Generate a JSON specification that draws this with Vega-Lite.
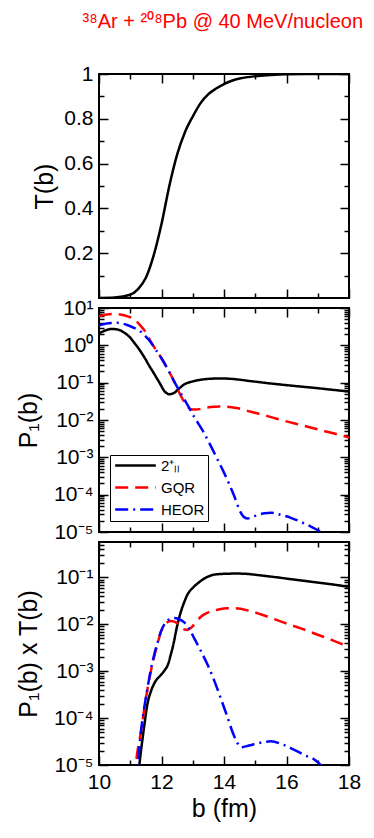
{
  "$schema": "https://vega.github.io/schema/vega-lite/v6.json",
  "background": "white",
  "autosize": {"type": "pad"},
  "padding": {"left": 15, "top": 12, "right": 5, "bottom": 5},
  "spacing": 10,
  "bounds": "flush",
  "title": {"text": "³⁸Ar + ²⁰⁸Pb @ 40 MeV/nucleon", "color": "red", "fontSize": 20, "fontWeight": "normal", "font": "Liberation Sans", "frame": "bounds", "anchor": "start", "dx": 67, "offset": 30},
  "config": {
    "font": "Liberation Sans",
    "view": {"stroke": "black", "strokeWidth": 2},
    "axis": {
      "domain": false, "grid": false,
      "labelFont": "Liberation Sans", "labelFontSize": 21, "labelColor": "black",
      "titleFont": "Liberation Sans", "titleFontSize": 25, "titleFontWeight": "normal", "titleColor": "black",
      "tickColor": "black", "tickWidth": 1.5,
      "labelFlush": false, "labelOverlap": false, "labelBound": false
    },
    "legend": {"labelFont": "Liberation Sans"}
  },
  "resolve": {"scale": {"color": "independent", "strokeDash": "independent"}},
  "datasets": {
    "t": [
      {"b": 10.0, "v": 0.0}, {"b": 10.5, "v": 0.002}, {"b": 11.0, "v": 0.015}, {"b": 11.25, "v": 0.04},
      {"b": 11.5, "v": 0.09}, {"b": 11.75, "v": 0.19}, {"b": 12.0, "v": 0.33}, {"b": 12.25, "v": 0.5},
      {"b": 12.5, "v": 0.64}, {"b": 12.75, "v": 0.74}, {"b": 13.0, "v": 0.81}, {"b": 13.25, "v": 0.87},
      {"b": 13.5, "v": 0.91}, {"b": 13.75, "v": 0.935}, {"b": 14.0, "v": 0.955}, {"b": 14.25, "v": 0.97},
      {"b": 14.5, "v": 0.98}, {"b": 14.75, "v": 0.986}, {"b": 15.0, "v": 0.99},
      {"b": 15.5, "v": 0.996}, {"b": 16.0, "v": 0.999}, {"b": 17.0, "v": 1.0}, {"b": 18.0, "v": 1.0}
    ],
    "p": [
      {"s": "2⁺ₗₗ", "b": 10.0, "v": 2.1}, {"s": "2⁺ₗₗ", "b": 10.2, "v": 2.5}, {"s": "2⁺ₗₗ", "b": 10.4, "v": 2.75},
      {"s": "2⁺ₗₗ", "b": 10.6, "v": 2.65}, {"s": "2⁺ₗₗ", "b": 10.8, "v": 2.2}, {"s": "2⁺ₗₗ", "b": 11.0, "v": 1.6},
      {"s": "2⁺ₗₗ", "b": 11.12, "v": 1.2}, {"s": "2⁺ₗₗ", "b": 11.3, "v": 0.75}, {"s": "2⁺ₗₗ", "b": 11.45, "v": 0.48},
      {"s": "2⁺ₗₗ", "b": 11.6, "v": 0.29}, {"s": "2⁺ₗₗ", "b": 11.77, "v": 0.17}, {"s": "2⁺ₗₗ", "b": 11.95, "v": 0.095},
      {"s": "2⁺ₗₗ", "b": 12.09, "v": 0.06}, {"s": "2⁺ₗₗ", "b": 12.25, "v": 0.049}, {"s": "2⁺ₗₗ", "b": 12.4, "v": 0.053},
      {"s": "2⁺ₗₗ", "b": 12.55, "v": 0.068}, {"s": "2⁺ₗₗ", "b": 12.73, "v": 0.09}, {"s": "2⁺ₗₗ", "b": 13.0, "v": 0.108},
      {"s": "2⁺ₗₗ", "b": 13.26, "v": 0.12}, {"s": "2⁺ₗₗ", "b": 13.6, "v": 0.128}, {"s": "2⁺ₗₗ", "b": 13.9, "v": 0.13},
      {"s": "2⁺ₗₗ", "b": 14.3, "v": 0.125}, {"s": "2⁺ₗₗ", "b": 14.86, "v": 0.11}, {"s": "2⁺ₗₗ", "b": 15.4, "v": 0.097},
      {"s": "2⁺ₗₗ", "b": 15.93, "v": 0.087}, {"s": "2⁺ₗₗ", "b": 16.5, "v": 0.078}, {"s": "2⁺ₗₗ", "b": 17.0, "v": 0.071},
      {"s": "2⁺ₗₗ", "b": 17.5, "v": 0.064}, {"s": "2⁺ₗₗ", "b": 18.0, "v": 0.058},
      {"s": "GQR", "b": 10.0, "v": 6.0}, {"s": "GQR", "b": 10.25, "v": 6.7}, {"s": "GQR", "b": 10.5, "v": 6.9},
      {"s": "GQR", "b": 10.8, "v": 6.4}, {"s": "GQR", "b": 11.1, "v": 5.1}, {"s": "GQR", "b": 11.3, "v": 3.6},
      {"s": "GQR", "b": 11.5, "v": 2.2}, {"s": "GQR", "b": 11.66, "v": 1.25}, {"s": "GQR", "b": 11.8, "v": 0.8},
      {"s": "GQR", "b": 12.0, "v": 0.45}, {"s": "GQR", "b": 12.2, "v": 0.23}, {"s": "GQR", "b": 12.4, "v": 0.11},
      {"s": "GQR", "b": 12.6, "v": 0.048}, {"s": "GQR", "b": 12.73, "v": 0.03}, {"s": "GQR", "b": 12.85, "v": 0.022},
      {"s": "GQR", "b": 12.94, "v": 0.0195}, {"s": "GQR", "b": 13.1, "v": 0.019}, {"s": "GQR", "b": 13.37, "v": 0.021},
      {"s": "GQR", "b": 13.7, "v": 0.0225}, {"s": "GQR", "b": 14.0, "v": 0.023}, {"s": "GQR", "b": 14.4, "v": 0.021},
      {"s": "GQR", "b": 14.86, "v": 0.0166}, {"s": "GQR", "b": 15.4, "v": 0.0127}, {"s": "GQR", "b": 15.93, "v": 0.0095},
      {"s": "GQR", "b": 16.5, "v": 0.0072}, {"s": "GQR", "b": 17.0, "v": 0.0056}, {"s": "GQR", "b": 17.5, "v": 0.0044},
      {"s": "GQR", "b": 18.0, "v": 0.0034},
      {"s": "HEOR", "b": 10.0, "v": 3.4}, {"s": "HEOR", "b": 10.3, "v": 3.9}, {"s": "HEOR", "b": 10.6, "v": 4.0},
      {"s": "HEOR", "b": 10.9, "v": 3.5}, {"s": "HEOR", "b": 11.1, "v": 3.0}, {"s": "HEOR", "b": 11.34, "v": 2.3},
      {"s": "HEOR", "b": 11.5, "v": 1.7}, {"s": "HEOR", "b": 11.66, "v": 1.2}, {"s": "HEOR", "b": 11.8, "v": 0.8},
      {"s": "HEOR", "b": 12.0, "v": 0.45}, {"s": "HEOR", "b": 12.2, "v": 0.23}, {"s": "HEOR", "b": 12.4, "v": 0.11},
      {"s": "HEOR", "b": 12.6, "v": 0.055}, {"s": "HEOR", "b": 12.73, "v": 0.036}, {"s": "HEOR", "b": 12.9, "v": 0.02},
      {"s": "HEOR", "b": 13.05, "v": 0.012}, {"s": "HEOR", "b": 13.3, "v": 0.0055}, {"s": "HEOR", "b": 13.58, "v": 0.002},
      {"s": "HEOR", "b": 13.8, "v": 0.00085}, {"s": "HEOR", "b": 14.0, "v": 0.00039}, {"s": "HEOR", "b": 14.17, "v": 0.00019},
      {"s": "HEOR", "b": 14.33, "v": 0.000091}, {"s": "HEOR", "b": 14.5, "v": 0.000038}, {"s": "HEOR", "b": 14.62, "v": 0.000026},
      {"s": "HEOR", "b": 14.75, "v": 0.000023}, {"s": "HEOR", "b": 15.0, "v": 0.000027}, {"s": "HEOR", "b": 15.3, "v": 0.000032},
      {"s": "HEOR", "b": 15.5, "v": 0.000033}, {"s": "HEOR", "b": 15.8, "v": 0.000029}, {"s": "HEOR", "b": 16.14, "v": 0.000024},
      {"s": "HEOR", "b": 16.5, "v": 0.000018}, {"s": "HEOR", "b": 16.78, "v": 0.000014}, {"s": "HEOR", "b": 17.1, "v": 0.00001},
      {"s": "HEOR", "b": 17.5, "v": 0.000006}, {"s": "HEOR", "b": 18.0, "v": 0.000003}
    ],
    "pt": [
      {"s": "2⁺ₗₗ", "b": 11.0, "v": 0.0000001}, {"s": "2⁺ₗₗ", "b": 11.29, "v": 0.00001}, {"s": "2⁺ₗₗ", "b": 11.45, "v": 0.00007},
      {"s": "2⁺ₗₗ", "b": 11.55, "v": 0.0002}, {"s": "2⁺ₗₗ", "b": 11.66, "v": 0.00037}, {"s": "2⁺ₗₗ", "b": 11.8, "v": 0.0006},
      {"s": "2⁺ₗₗ", "b": 11.98, "v": 0.00083}, {"s": "2⁺ₗₗ", "b": 12.1, "v": 0.00105}, {"s": "2⁺ₗₗ", "b": 12.2, "v": 0.00135},
      {"s": "2⁺ₗₗ", "b": 12.3, "v": 0.0023}, {"s": "2⁺ₗₗ", "b": 12.4, "v": 0.0043}, {"s": "2⁺ₗₗ", "b": 12.46, "v": 0.0069},
      {"s": "2⁺ₗₗ", "b": 12.62, "v": 0.0186}, {"s": "2⁺ₗₗ", "b": 12.73, "v": 0.03}, {"s": "2⁺ₗₗ", "b": 12.83, "v": 0.043},
      {"s": "2⁺ₗₗ", "b": 13.0, "v": 0.06}, {"s": "2⁺ₗₗ", "b": 13.16, "v": 0.075}, {"s": "2⁺ₗₗ", "b": 13.35, "v": 0.093},
      {"s": "2⁺ₗₗ", "b": 13.58, "v": 0.11}, {"s": "2⁺ₗₗ", "b": 13.85, "v": 0.118}, {"s": "2⁺ₗₗ", "b": 14.11, "v": 0.12},
      {"s": "2⁺ₗₗ", "b": 14.4, "v": 0.121}, {"s": "2⁺ₗₗ", "b": 14.65, "v": 0.12}, {"s": "2⁺ₗₗ", "b": 15.2, "v": 0.11},
      {"s": "2⁺ₗₗ", "b": 15.72, "v": 0.1}, {"s": "2⁺ₗₗ", "b": 16.25, "v": 0.09}, {"s": "2⁺ₗₗ", "b": 16.78, "v": 0.081},
      {"s": "2⁺ₗₗ", "b": 17.4, "v": 0.072}, {"s": "2⁺ₗₗ", "b": 18.0, "v": 0.063},
      {"s": "GQR", "b": 11.0, "v": 0.0000001}, {"s": "GQR", "b": 11.18, "v": 0.00001}, {"s": "GQR", "b": 11.34, "v": 0.00005},
      {"s": "GQR", "b": 11.45, "v": 0.00016}, {"s": "GQR", "b": 11.56, "v": 0.00045}, {"s": "GQR", "b": 11.66, "v": 0.001},
      {"s": "GQR", "b": 11.77, "v": 0.0021}, {"s": "GQR", "b": 11.88, "v": 0.004}, {"s": "GQR", "b": 11.98, "v": 0.0069},
      {"s": "GQR", "b": 12.1, "v": 0.0095}, {"s": "GQR", "b": 12.2, "v": 0.0112}, {"s": "GQR", "b": 12.3, "v": 0.0118},
      {"s": "GQR", "b": 12.46, "v": 0.011}, {"s": "GQR", "b": 12.6, "v": 0.0093}, {"s": "GQR", "b": 12.73, "v": 0.0078},
      {"s": "GQR", "b": 12.83, "v": 0.0076}, {"s": "GQR", "b": 12.95, "v": 0.0085}, {"s": "GQR", "b": 13.1, "v": 0.011},
      {"s": "GQR", "b": 13.26, "v": 0.0145}, {"s": "GQR", "b": 13.5, "v": 0.018}, {"s": "GQR", "b": 13.8, "v": 0.0205},
      {"s": "GQR", "b": 14.1, "v": 0.022}, {"s": "GQR", "b": 14.33, "v": 0.022}, {"s": "GQR", "b": 14.8, "v": 0.0195},
      {"s": "GQR", "b": 15.4, "v": 0.0145}, {"s": "GQR", "b": 15.9, "v": 0.011}, {"s": "GQR", "b": 16.46, "v": 0.0082},
      {"s": "GQR", "b": 17.0, "v": 0.006}, {"s": "GQR", "b": 17.5, "v": 0.0045}, {"s": "GQR", "b": 18.0, "v": 0.0033},
      {"s": "HEOR", "b": 11.0, "v": 0.0000001}, {"s": "HEOR", "b": 11.24, "v": 0.00001}, {"s": "HEOR", "b": 11.34, "v": 0.00005},
      {"s": "HEOR", "b": 11.45, "v": 0.00017}, {"s": "HEOR", "b": 11.56, "v": 0.00047}, {"s": "HEOR", "b": 11.66, "v": 0.0011},
      {"s": "HEOR", "b": 11.77, "v": 0.0023}, {"s": "HEOR", "b": 11.88, "v": 0.0042}, {"s": "HEOR", "b": 11.98, "v": 0.007},
      {"s": "HEOR", "b": 12.1, "v": 0.0102}, {"s": "HEOR", "b": 12.25, "v": 0.0128}, {"s": "HEOR", "b": 12.4, "v": 0.0137},
      {"s": "HEOR", "b": 12.55, "v": 0.013}, {"s": "HEOR", "b": 12.73, "v": 0.011}, {"s": "HEOR", "b": 12.9, "v": 0.0078},
      {"s": "HEOR", "b": 13.05, "v": 0.005}, {"s": "HEOR", "b": 13.26, "v": 0.0027}, {"s": "HEOR", "b": 13.48, "v": 0.00135},
      {"s": "HEOR", "b": 13.7, "v": 0.0006}, {"s": "HEOR", "b": 13.9, "v": 0.00026}, {"s": "HEOR", "b": 14.1, "v": 0.00011},
      {"s": "HEOR", "b": 14.27, "v": 0.000051}, {"s": "HEOR", "b": 14.4, "v": 0.000032}, {"s": "HEOR", "b": 14.54, "v": 0.000024},
      {"s": "HEOR", "b": 14.8, "v": 0.000026}, {"s": "HEOR", "b": 15.07, "v": 0.000029}, {"s": "HEOR", "b": 15.5, "v": 0.000032},
      {"s": "HEOR", "b": 15.9, "v": 0.000027}, {"s": "HEOR", "b": 16.25, "v": 0.000021}, {"s": "HEOR", "b": 16.6, "v": 0.000016},
      {"s": "HEOR", "b": 16.9, "v": 0.000013}, {"s": "HEOR", "b": 17.1, "v": 0.00001}, {"s": "HEOR", "b": 17.5, "v": 0.000006},
      {"s": "HEOR", "b": 18.0, "v": 0.000003}
    ]
  },
  "vconcat": [
    {
      "width": 250, "height": 224,
      "data": {"name": "t"},
      "layer": [
        {
          "mark": {"type": "line", "color": "black", "strokeWidth": 2.5, "clip": true, "interpolate": "monotone"},
          "encoding": {
            "x": {"field": "b", "type": "quantitative", "scale": {"domain": [10, 18], "nice": false},
                  "axis": {"orient": "bottom", "values": [10, 12, 14, 16, 18], "labels": false, "title": null, "tickSize": 9, "offset": -9}},
            "y": {"field": "v", "type": "quantitative", "scale": {"domain": [0, 1], "nice": false, "zero": false},
                  "axis": {"orient": "left", "values": [0.2, 0.4, 0.6, 0.8, 1], "format": "~g", "title": "T(b)", "tickSize": 9, "offset": -9, "labelPadding": 6, "titlePadding": 6}}
          }
        },
        {
          "mark": {"type": "point", "opacity": 0, "clip": true},
          "encoding": {
            "x": {"field": "b", "type": "quantitative", "axis": {"orient": "top", "values": [10, 12, 14, 16, 18], "labels": false, "title": null, "tickSize": 9, "offset": -9}},
            "y": {"field": "v", "type": "quantitative", "axis": {"orient": "right", "values": [0.2, 0.4, 0.6, 0.8, 1], "labels": false, "title": null, "tickSize": 9, "offset": -9}}
          }
        },
        {
          "mark": {"type": "point", "opacity": 0, "clip": true},
          "encoding": {
            "x": {"field": "b", "type": "quantitative", "axis": {"orient": "bottom", "values": [11, 13, 15, 17], "labels": false, "title": null, "tickSize": 5, "offset": -5}},
            "y": {"field": "v", "type": "quantitative", "axis": {"orient": "left", "values": [0.1, 0.3, 0.5, 0.7, 0.9], "labels": false, "title": null, "tickSize": 5, "offset": -5}}
          }
        },
        {
          "mark": {"type": "point", "opacity": 0, "clip": true},
          "encoding": {
            "x": {"field": "b", "type": "quantitative", "axis": {"orient": "top", "values": [11, 13, 15, 17], "labels": false, "title": null, "tickSize": 5, "offset": -5}},
            "y": {"field": "v", "type": "quantitative", "axis": {"orient": "right", "values": [0.1, 0.3, 0.5, 0.7, 0.9], "labels": false, "title": null, "tickSize": 5, "offset": -5}}
          }
        }
      ],
      "resolve": {"axis": {"x": "independent", "y": "independent"}}
    },
    {
      "width": 250, "height": 224,
      "data": {"name": "p"},
      "layer": [
        {
          "mark": {"type": "line", "strokeWidth": 2.5, "clip": true, "interpolate": "monotone"},
          "encoding": {
            "x": {"field": "b", "type": "quantitative", "scale": {"domain": [10, 18], "nice": false},
                  "axis": {"orient": "bottom", "values": [10, 12, 14, 16, 18], "labels": false, "title": null, "tickSize": 9, "offset": -9}},
            "y": {"field": "v", "type": "quantitative", "scale": {"type": "log", "domain": [0.00001, 10], "nice": false},
                  "axis": {"orient": "left", "values": [0.00001, 0.0001, 0.001, 0.01, 0.1, 1, 10], "labelExpr": "'10' + ['⁻⁵','⁻⁴','⁻³','⁻²','⁻¹','⁰','¹'][round(log(datum.value)/LN10)+5]", "title": "P₁(b)", "tickSize": 9, "offset": -9, "labelPadding": 6, "titlePadding": 12}},
            "color": {"field": "s", "type": "nominal", "scale": {"domain": ["2⁺ₗₗ", "GQR", "HEOR"], "range": ["black", "red", "blue"]},
                      "legend": {"orient": "bottom-left", "offset": 11, "title": null, "strokeColor": "black", "fillColor": "white", "padding": 3,
                                 "labelFontSize": 15, "labelColor": "black", "symbolType": "M-1.06,0H7.06", "symbolSize": 100, "symbolStrokeWidth": 2.5, "labelOffset": 33, "rowPadding": 6}},
            "strokeDash": {"field": "s", "type": "nominal", "scale": {"domain": ["2⁺ₗₗ", "GQR", "HEOR"], "range": [[1, 0], [13, 7], [13, 5, 2, 5]]},
                      "legend": {"orient": "bottom-left", "offset": 11, "title": null, "strokeColor": "black", "fillColor": "white", "padding": 3,
                                 "labelFontSize": 15, "labelColor": "black", "symbolType": "M-1.06,0H7.06", "symbolSize": 100, "symbolStrokeWidth": 2.5, "labelOffset": 33, "rowPadding": 6}}
          }
        },
        {
          "mark": {"type": "point", "opacity": 0, "clip": true},
          "encoding": {
            "x": {"field": "b", "type": "quantitative", "axis": {"orient": "top", "values": [10, 12, 14, 16, 18], "labels": false, "title": null, "tickSize": 9, "offset": -9}},
            "y": {"field": "v", "type": "quantitative", "axis": {"orient": "right", "values": [0.00001, 0.0001, 0.001, 0.01, 0.1, 1, 10], "labels": false, "title": null, "tickSize": 9, "offset": -9}}
          }
        },
        {
          "mark": {"type": "point", "opacity": 0, "clip": true},
          "encoding": {
            "x": {"field": "b", "type": "quantitative", "axis": {"orient": "bottom", "values": [11, 13, 15, 17], "labels": false, "title": null, "tickSize": 5, "offset": -5}},
            "y": {"field": "v", "type": "quantitative", "axis": {"orient": "left", "labels": false, "title": null, "tickSize": 5, "offset": -5,
                  "values": [0.00002,0.00003,0.00004,0.00005,0.00006,0.00007,0.00008,0.00009,0.0002,0.0003,0.0004,0.0005,0.0006,0.0007,0.0008,0.0009,0.002,0.003,0.004,0.005,0.006,0.007,0.008,0.009,0.02,0.03,0.04,0.05,0.06,0.07,0.08,0.09,0.2,0.3,0.4,0.5,0.6,0.7,0.8,0.9,2,3,4,5,6,7,8,9]}}
          }
        },
        {
          "mark": {"type": "point", "opacity": 0, "clip": true},
          "encoding": {
            "x": {"field": "b", "type": "quantitative", "axis": {"orient": "top", "values": [11, 13, 15, 17], "labels": false, "title": null, "tickSize": 5, "offset": -5}},
            "y": {"field": "v", "type": "quantitative", "axis": {"orient": "right", "labels": false, "title": null, "tickSize": 5, "offset": -5,
                  "values": [0.00002,0.00003,0.00004,0.00005,0.00006,0.00007,0.00008,0.00009,0.0002,0.0003,0.0004,0.0005,0.0006,0.0007,0.0008,0.0009,0.002,0.003,0.004,0.005,0.006,0.007,0.008,0.009,0.02,0.03,0.04,0.05,0.06,0.07,0.08,0.09,0.2,0.3,0.4,0.5,0.6,0.7,0.8,0.9,2,3,4,5,6,7,8,9]}}
          }
        }
      ],
      "resolve": {"axis": {"x": "independent", "y": "independent"}}
    },
    {
      "width": 250, "height": 223,
      "data": {"name": "pt"},
      "layer": [
        {
          "mark": {"type": "line", "strokeWidth": 2.5, "clip": true, "interpolate": "monotone"},
          "encoding": {
            "x": {"field": "b", "type": "quantitative", "scale": {"domain": [10, 18], "nice": false},
                  "axis": {"orient": "bottom", "values": [10, 12, 14, 16, 18], "format": "d", "title": "b (fm)", "tickSize": 9, "offset": -9, "labelPadding": 6, "titlePadding": 4}},
            "y": {"field": "v", "type": "quantitative", "scale": {"type": "log", "domain": [0.00001, 0.57], "nice": false},
                  "axis": {"orient": "left", "values": [0.00001, 0.0001, 0.001, 0.01, 0.1], "labelExpr": "'10' + ['⁻⁵','⁻⁴','⁻³','⁻²','⁻¹','⁰','¹'][round(log(datum.value)/LN10)+5]", "title": "P₁(b) x T(b)", "tickSize": 9, "offset": -9, "labelPadding": 6, "titlePadding": 12}},
            "color": {"field": "s", "type": "nominal", "scale": {"domain": ["2⁺ₗₗ", "GQR", "HEOR"], "range": ["black", "red", "blue"]}, "legend": null},
            "strokeDash": {"field": "s", "type": "nominal", "scale": {"domain": ["2⁺ₗₗ", "GQR", "HEOR"], "range": [[1, 0], [13, 7], [13, 5, 2, 5]]}, "legend": null}
          }
        },
        {
          "mark": {"type": "point", "opacity": 0, "clip": true},
          "encoding": {
            "x": {"field": "b", "type": "quantitative", "axis": {"orient": "top", "values": [10, 12, 14, 16, 18], "labels": false, "title": null, "tickSize": 9, "offset": -9}},
            "y": {"field": "v", "type": "quantitative", "axis": {"orient": "right", "values": [0.00001, 0.0001, 0.001, 0.01, 0.1], "labels": false, "title": null, "tickSize": 9, "offset": -9}}
          }
        },
        {
          "mark": {"type": "point", "opacity": 0, "clip": true},
          "encoding": {
            "x": {"field": "b", "type": "quantitative", "axis": {"orient": "bottom", "values": [11, 13, 15, 17], "labels": false, "title": null, "tickSize": 5, "offset": -5}},
            "y": {"field": "v", "type": "quantitative", "axis": {"orient": "left", "labels": false, "title": null, "tickSize": 5, "offset": -5,
                  "values": [0.00002,0.00003,0.00004,0.00005,0.00006,0.00007,0.00008,0.00009,0.0002,0.0003,0.0004,0.0005,0.0006,0.0007,0.0008,0.0009,0.002,0.003,0.004,0.005,0.006,0.007,0.008,0.009,0.02,0.03,0.04,0.05,0.06,0.07,0.08,0.09,0.2,0.3,0.4,0.5]}}
          }
        },
        {
          "mark": {"type": "point", "opacity": 0, "clip": true},
          "encoding": {
            "x": {"field": "b", "type": "quantitative", "axis": {"orient": "top", "values": [11, 13, 15, 17], "labels": false, "title": null, "tickSize": 5, "offset": -5}},
            "y": {"field": "v", "type": "quantitative", "axis": {"orient": "right", "labels": false, "title": null, "tickSize": 5, "offset": -5,
                  "values": [0.00002,0.00003,0.00004,0.00005,0.00006,0.00007,0.00008,0.00009,0.0002,0.0003,0.0004,0.0005,0.0006,0.0007,0.0008,0.0009,0.002,0.003,0.004,0.005,0.006,0.007,0.008,0.009,0.02,0.03,0.04,0.05,0.06,0.07,0.08,0.09,0.2,0.3,0.4,0.5]}}
          }
        }
      ],
      "resolve": {"axis": {"x": "independent", "y": "independent"}}
    }
  ]
}
